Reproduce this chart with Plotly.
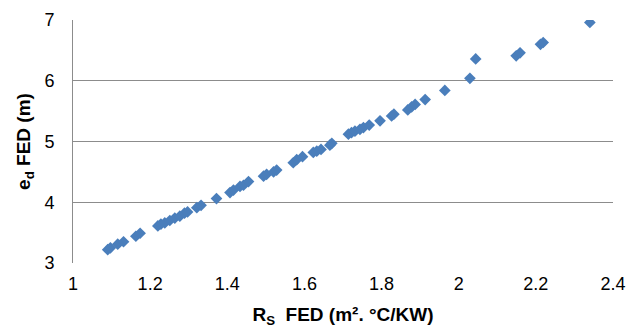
import plotly.graph_objects as go

rs_fed = [1.090, 1.097, 1.116, 1.131, 1.163, 1.174, 1.220, 1.228, 1.238, 1.251,
          1.264, 1.277, 1.289, 1.297, 1.321, 1.332, 1.372, 1.407, 1.416, 1.433,
          1.442, 1.455, 1.494, 1.502, 1.520, 1.528, 1.571, 1.580, 1.595, 1.623,
          1.632, 1.643, 1.666, 1.671, 1.714, 1.722, 1.731, 1.744, 1.753, 1.768,
          1.796, 1.826, 1.832, 1.868, 1.878, 1.887, 1.913, 1.964, 2.029, 2.044,
          2.149, 2.159, 2.212, 2.219, 2.340]
ed_fed = [3.22, 3.25, 3.31, 3.35, 3.44, 3.49, 3.61, 3.64, 3.66, 3.70,
          3.74, 3.77, 3.82, 3.84, 3.91, 3.95, 4.06, 4.16, 4.20, 4.26,
          4.28, 4.34, 4.43, 4.46, 4.50, 4.53, 4.65, 4.70, 4.75, 4.82,
          4.84, 4.87, 4.94, 4.97, 5.12, 5.145, 5.17, 5.20, 5.23, 5.27,
          5.34, 5.42, 5.45, 5.52, 5.57, 5.61, 5.69, 5.84, 6.04, 6.36,
          6.41, 6.46, 6.60, 6.63, 6.96]

x_ticks = [1, 1.2, 1.4, 1.6, 1.8, 2, 2.2, 2.4]
x_tick_text = ["1", "1.2", "1.4", "1.6", "1.8", "2", "2.2", "2.4"]
y_ticks = [3, 4, 5, 6, 7]

fig = go.Figure()
fig.add_trace(go.Scatter(
    x=rs_fed, y=ed_fed, mode="markers",
    marker=dict(symbol="diamond", size=9, color="#4a7ebb", line=dict(width=0)),
    showlegend=False,
))

font = "Liberation Sans, Arial, sans-serif"
fig.update_layout(
    width=628, height=328,
    margin=dict(l=73, r=15, t=20, b=65),
    paper_bgcolor="white", plot_bgcolor="white",
    font=dict(family=font, size=18, color="black"),
    xaxis=dict(
        range=[1, 2.4], tickvals=x_ticks, ticktext=x_tick_text,
        showgrid=False, zeroline=False, showline=False, ticks="",
        tickfont=dict(size=18), ticklabelstandoff=8, automargin=False,
        title=dict(text="<b>R<sub>S</sub>  FED (m². °C/KW)</b>", font=dict(size=19), standoff=17),
    ),
    yaxis=dict(
        range=[3, 7], tickvals=y_ticks,
        showgrid=True, gridcolor="#8c8c8c", gridwidth=1,
        zeroline=False, showline=True, linecolor="#8c8c8c", linewidth=1, ticks="",
        tickfont=dict(size=18), ticklabelstandoff=14, automargin=False,
        title=dict(text="<b>e<sub>d</sub> FED (m)</b>", font=dict(size=19), standoff=8),
    ),
)

fig.write_html("out.html")
